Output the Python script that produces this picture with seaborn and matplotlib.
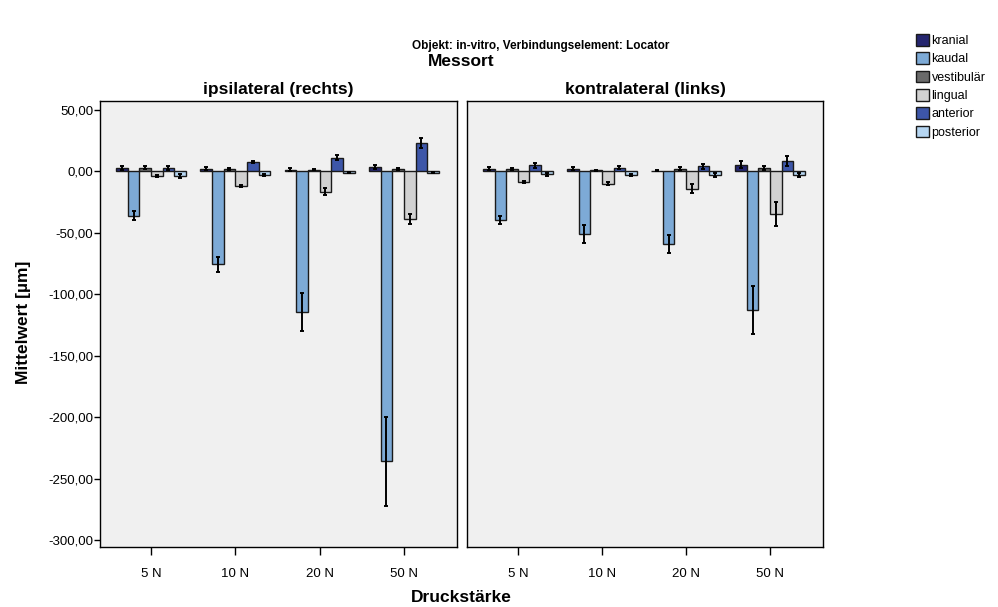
import matplotlib
matplotlib.use("Agg")
import matplotlib.pyplot as plt
import numpy as np
import pandas as pd
import seaborn as sns

# --- data -------------------------------------------------------------
forces = ["5 N", "10 N", "20 N", "50 N"]
sites = ["kranial", "kaudal", "vestibulär", "lingual", "anterior", "posterior"]
panels = ["ipsilateral (rechts)", "kontralateral (links)"]

# mean displacement [µm], per site, over forces
ipsi_mean = {
    "kranial":    [2.5, 2.0, 1.5, 3.5],
    "kaudal":     [-36.0, -75.5, -114.5, -236.0],
    "vestibulär": [3.0, 2.0, 1.5, 2.0],
    "lingual":    [-4.0, -12.0, -16.5, -39.0],
    "anterior":   [2.5, 7.5, 11.0, 23.0],
    "posterior":  [-4.0, -3.0, -1.0, -1.0],
}
ipsi_err = {
    "kranial":    [1.5, 1.2, 1.5, 1.5],
    "kaudal":     [3.5, 6.0, 15.5, 36.0],
    "vestibulär": [1.0, 0.8, 0.6, 1.0],
    "lingual":    [0.8, 1.0, 3.0, 4.0],
    "anterior":   [1.5, 1.0, 2.0, 4.0],
    "posterior":  [1.5, 1.0, 0.5, 0.5],
}
kontra_mean = {
    "kranial":    [2.0, 2.0, 0.5, 5.5],
    "kaudal":     [-39.5, -51.0, -59.0, -113.0],
    "vestibulär": [2.0, 1.0, 2.0, 2.5],
    "lingual":    [-8.5, -10.0, -14.0, -34.5],
    "anterior":   [5.0, 3.0, 4.0, 8.5],
    "posterior":  [-2.5, -3.0, -3.0, -3.0],
}
kontra_err = {
    "kranial":    [1.2, 1.2, 0.5, 3.0],
    "kaudal":     [3.5, 7.0, 7.5, 19.5],
    "vestibulär": [1.0, 0.5, 1.2, 1.5],
    "lingual":    [1.0, 1.0, 3.5, 10.0],
    "anterior":   [2.0, 1.0, 2.0, 4.0],
    "posterior":  [1.0, 1.0, 1.5, 1.5],
}

colors = ["#25266f", "#7daad6", "#6a6a6a", "#d1d1d1", "#3d56a8", "#b6d6f2"]
yticks = [50, 0, -50, -100, -150, -200, -250, -300]


def to_frame(means, errs):
    rows = []
    for s in sites:
        for f, m, e in zip(forces, means[s], errs[s]):
            rows.append({"Druckstärke": f, "Messort": s, "mean": m, "err": e})
    return pd.DataFrame(rows)


frames = [to_frame(ipsi_mean, ipsi_err), to_frame(kontra_mean, kontra_err)]

# --- figure -----------------------------------------------------------
sns.set_theme(style="white")
plt.rcParams["font.family"] = ["Liberation Sans", "DejaVu Sans"]
plt.rcParams.update({"text.color": "black", "axes.labelcolor": "black",
                     "xtick.color": "black", "ytick.color": "black"})

W, H = 998, 607
fig = plt.figure(figsize=(W / 100, H / 100), dpi=100)
fig.patch.set_facecolor("white")

top, bottom = 101, 547
axes_px = [(100, 457), (467, 823)]
axes = []
for i, (x0, x1) in enumerate(axes_px):
    ax = fig.add_axes([x0 / W, 1 - bottom / H, (x1 - x0) / W, (bottom - top) / H])
    axes.append(ax)

for i, (ax, df) in enumerate(zip(axes, frames)):
    sns.barplot(data=df, x="Druckstärke", y="mean", hue="Messort",
                order=forces, hue_order=sites, palette=colors,
                errorbar=None, width=0.83, edgecolor="#1a1a1a",
                linewidth=1.0, saturation=1, ax=ax)
    # error bars at the centre of each bar
    for s, cont in zip(sites, ax.containers):
        sub = df[df["Messort"] == s].set_index("Druckstärke").loc[forces]
        xs = [b.get_x() + b.get_width() / 2 for b in cont]
        ax.errorbar(xs, sub["mean"].values, yerr=sub["err"].values, fmt="none",
                    ecolor="black", elinewidth=1.4, capsize=1.6, capthick=1.4,
                    zorder=5)
    ax.set_facecolor("#f0f0f0")
    ax.set_ylim(-305.7, 57.3)
    ax.set_xlim(-0.605, 3.63)
    ax.set_yticks(yticks)
    ax.set_xlabel("")
    ax.set_ylabel("")
    ax.tick_params(axis="x", direction="out", length=6, width=1, color="black",
                   labelcolor="black", labelsize=9.5, pad=9, bottom=True)
    ax.tick_params(axis="y", direction="out", length=4, width=1, color="black",
                   labelcolor="black", labelsize=9.5, pad=1,
                   left=(i == 0), labelleft=(i == 0))
    for sp in ax.spines.values():
        sp.set_color("black")
        sp.set_linewidth(1.0)
    ax.set_title(panels[i], fontsize=12.5, fontweight="bold", pad=5, color="black")
    if ax.get_legend() is not None:
        ax.get_legend().remove()

axes[0].set_yticklabels([f"{v:.2f}".replace(".", ",") for v in yticks])

fig.text(0.5 * (100 + 823) / W, 1 - 597 / H, "Druckstärke", ha="center", va="center",
         fontsize=12.5, fontweight="bold")
fig.text(24 / W, 1 - 322 / H, "Mittelwert [µm]", ha="center", va="center",
         rotation=90, fontsize=12.5, fontweight="bold")
fig.text(0.5 * (100 + 823) / W, 1 - 62 / H, "Messort", ha="center", va="center",
         fontsize=12.5, fontweight="bold")
fig.text(541 / W, 1 - 46 / H, "Objekt: in-vitro, Verbindungselement: Locator",
         ha="center", va="center", fontsize=8.5, fontweight="bold")

handles, labels = axes[0].get_legend_handles_labels()
handles = handles[:len(sites)]
labels = labels[:len(sites)]
fig.legend(handles, labels, loc="upper left", bbox_to_anchor=(911 / W, 1 - 29 / H),
           frameon=False, fontsize=9, handlelength=1.05, handleheight=1.05,
           handletextpad=0.2, labelspacing=0.42, borderaxespad=0)

fig.savefig("out.png", dpi=100, facecolor="white")
